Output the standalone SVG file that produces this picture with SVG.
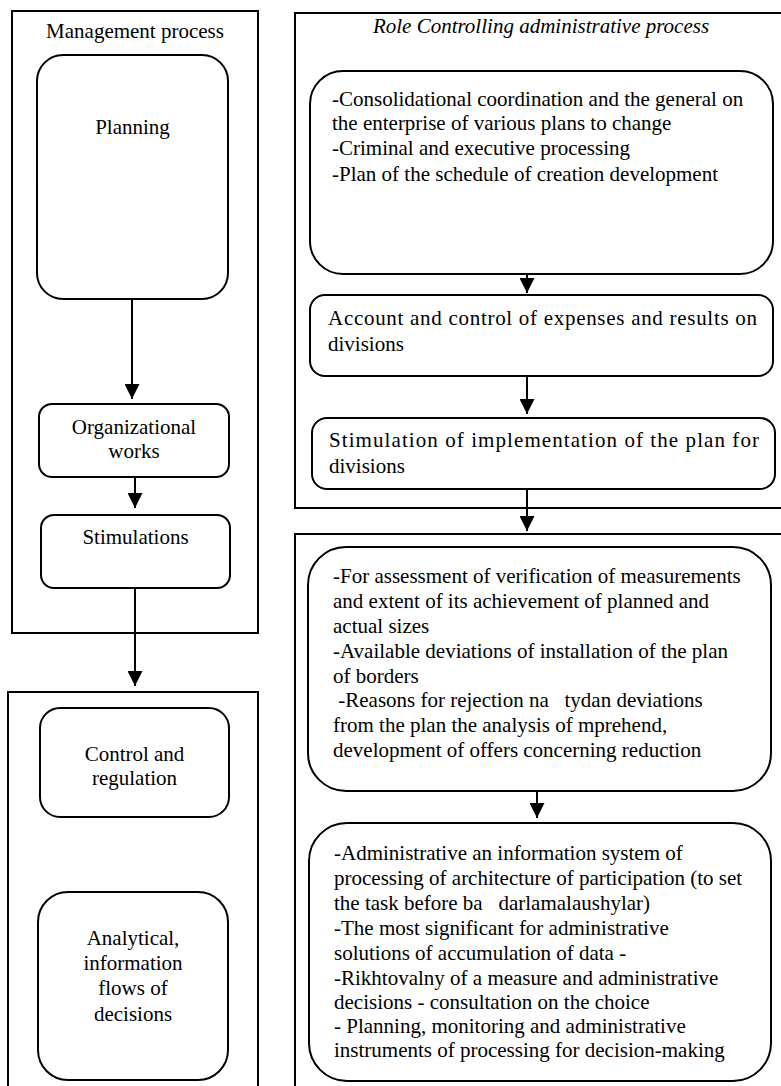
<svg xmlns="http://www.w3.org/2000/svg" width="781" height="1086" viewBox="0 0 781 1086">
<style>
.frame{fill:none;stroke:#000;stroke-width:2}
.node{fill:#fff;stroke:#000;stroke-width:2}
.t{font-size:21px;fill:#000}
.c{text-anchor:middle}
.i{font-style:italic}
.conn{fill:none;stroke:#000;stroke-width:2}
</style>
<defs>
<marker id="ah" markerUnits="userSpaceOnUse" markerWidth="15" markerHeight="15" refX="15" refY="7.5" orient="auto">
<path d="M0,0 L15,7.5 L0,15 z" fill="#000"/>
</marker>
</defs>
<g font-family="'Liberation Serif', 'DejaVu Serif', serif">
<rect id="frame-management" class="frame" x="12" y="11" width="246" height="622"/>
<text class="t c" x="135" y="38">Management process</text>
<rect id="frame-control" class="frame" x="8" y="692" width="250" height="400"/>
<rect id="frame-role" class="frame" x="295" y="13" width="490" height="495"/>
<text class="t c i" x="541" y="33">Role Controlling administrative process</text>
<rect id="frame-analysis" class="frame" x="295" y="534" width="490" height="560"/>

<g id="connectors">
<line class="conn" x1="132" y1="299" x2="132" y2="399" marker-end="url(#ah)"/>
<line class="conn" x1="135" y1="477" x2="135" y2="508" marker-end="url(#ah)"/>
<line class="conn" x1="135" y1="588" x2="135" y2="686" marker-end="url(#ah)"/>
<line class="conn" x1="527" y1="274" x2="527" y2="293" marker-end="url(#ah)"/>
<line class="conn" x1="527" y1="376" x2="527" y2="414" marker-end="url(#ah)"/>
<line class="conn" x1="527" y1="489" x2="527" y2="531" marker-end="url(#ah)"/>
<line class="conn" x1="537" y1="791" x2="537" y2="818" marker-end="url(#ah)"/>
</g>

<g id="planning">
<rect class="node" x="37" y="55" width="191" height="244" rx="26"/>
<text class="t c" x="132.5" y="134">Planning</text>
</g>
<g id="organizational">
<rect class="node" x="39" y="404" width="190" height="73" rx="13"/>
<text class="t c" x="134" y="434">Organizational</text>
<text class="t c" x="134" y="458">works</text>
</g>
<g id="stimulations">
<rect class="node" x="41" y="515" width="189" height="73" rx="13"/>
<text class="t c" x="135.5" y="544">Stimulations</text>
</g>
<g id="control">
<rect class="node" x="40" y="708" width="189" height="109" rx="20"/>
<text class="t c" x="134.5" y="761">Control and</text>
<text class="t c" x="134.5" y="785">regulation</text>
</g>
<g id="analytical">
<rect class="node" x="38" y="892" width="190" height="188" rx="30"/>
<text class="t c" x="133" y="945">Analytical,</text>
<text class="t c" x="133" y="970">information</text>
<text class="t c" x="133" y="995">flows of</text>
<text class="t c" x="133" y="1021">decisions</text>
</g>

<g id="consolidation">
<rect class="node" x="310" y="71" width="463" height="203" rx="33"/>
<text class="t" x="332" y="106">-Consolidational coordination and the general on</text>
<text class="t" x="332" y="130">the enterprise of various plans to change</text>
<text class="t" x="332" y="155">-Criminal and executive processing</text>
<text class="t" x="332" y="181">-Plan of the schedule of creation development</text>
</g>
<g id="account">
<rect class="node" x="310" y="295" width="463" height="81" rx="15"/>
<text class="t" x="328" y="325" textLength="429" lengthAdjust="spacing">Account and control of expenses and results on</text>
<text class="t" x="328" y="351">divisions</text>
</g>
<g id="stimulation-plan">
<rect class="node" x="312" y="418" width="463" height="71" rx="15"/>
<text class="t" x="329" y="447" textLength="430" lengthAdjust="spacing">Stimulation of implementation of the plan for</text>
<text class="t" x="329" y="473">divisions</text>
</g>
<g id="assessment">
<rect class="node" x="308" y="547" width="463" height="244" rx="38"/>
<text class="t" x="333" y="583">-For assessment of verification of measurements</text>
<text class="t" x="333" y="608">and extent of its achievement of planned and</text>
<text class="t" x="333" y="633">actual sizes</text>
<text class="t" x="333" y="658">-Available deviations of installation of the plan</text>
<text class="t" x="333" y="683">of borders</text>
<text class="t" x="333" y="707" xml:space="preserve"> -Reasons for rejection na   tydan deviations</text>
<text class="t" x="333" y="732">from the plan the analysis of mprehend,</text>
<text class="t" x="333" y="757">development of offers concerning reduction</text>
</g>
<g id="information-system">
<rect class="node" x="309" y="823" width="462" height="258" rx="38"/>
<text class="t" x="334" y="860">-Administrative an information system of</text>
<text class="t" x="334" y="885">processing of architecture of participation (to set</text>
<text class="t" x="334" y="910" xml:space="preserve">the task before ba   darlamalaushylar)</text>
<text class="t" x="334" y="935">-The most significant for administrative</text>
<text class="t" x="334" y="960">solutions of accumulation of data -</text>
<text class="t" x="334" y="985">-Rikhtovalny of a measure and administrative</text>
<text class="t" x="334" y="1009">decisions - consultation on the choice</text>
<text class="t" x="334" y="1033">- Planning, monitoring and administrative</text>
<text class="t" x="334" y="1057">instruments of processing for decision-making</text>
</g>
</g>
</svg>
